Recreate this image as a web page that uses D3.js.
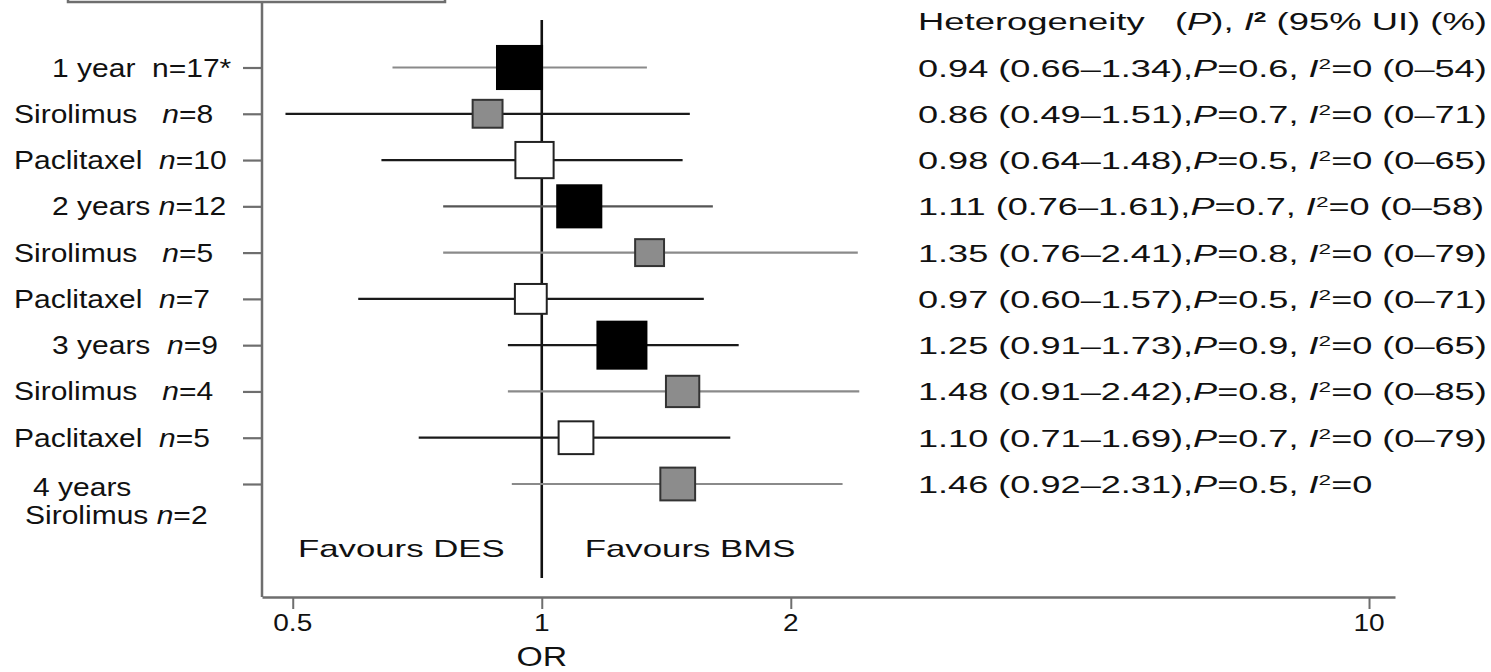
<!DOCTYPE html>
<html>
<head>
<meta charset="utf-8">
<script src="https://cdn.jsdelivr.net/npm/d3@7"></script>
<style>
  html, body { margin: 0; padding: 0; background: #fff; }
  svg { display: block; }
  text { font-family: "Liberation Sans", Arial, sans-serif; fill: #111; white-space: pre; }
</style>
</head>
<body>
<svg id="chart" width="1491" height="672"></svg>
<script>
// ---------------- data ----------------
const rowNames   = ["1 year", "Sirolimus", "Paclitaxel", "2 years", "Sirolimus", "Paclitaxel", "3 years", "Sirolimus", "Paclitaxel", "4 years"];
const rowType    = ["total", "sirolimus", "paclitaxel", "total", "sirolimus", "paclitaxel", "total", "sirolimus", "paclitaxel", "sirolimus"];
const nStudies   = ["17*", "8", "10", "12", "5", "7", "9", "4", "5", "2"];
const orValues   = [0.94, 0.86, 0.98, 1.11, 1.35, 0.97, 1.25, 1.48, 1.10, 1.46];
const ciLow      = [0.66, 0.49, 0.64, 0.76, 0.76, 0.60, 0.91, 0.91, 0.71, 0.92];
const ciHigh     = [1.34, 1.51, 1.48, 1.61, 2.41, 1.57, 1.73, 2.42, 1.69, 2.31];
const pHet       = ["0.6", "0.7", "0.5", "0.7", "0.8", "0.5", "0.9", "0.8", "0.7", "0.5"];
const i2Values   = [0, 0, 0, 0, 0, 0, 0, 0, 0, 0];
const i2Low      = [0, 0, 0, 0, 0, 0, 0, 0, 0, null];
const i2High     = [54, 71, 65, 58, 79, 71, 65, 85, 79, null];
const weights    = [92, 61, 78, 90, 59, 65, 100, 68, 71, 71];
const xTickVals  = [0.5, 1, 2, 10];

// ---------------- styles ----------------
const fillByType = { total: "#000", sirolimus: "#8c8c8c", paclitaxel: "#fff" };
const strokeByType = { total: "#000", sirolimus: "#333", paclitaxel: "#222" };
const ciColor = ["#8a8a8a", "#1a1a1a", "#1a1a1a", "#555", "#8a8a8a", "#1a1a1a", "#1a1a1a", "#8a8a8a", "#1a1a1a", "#8a8a8a"];
const axisColor = "#6e6e6e";

const svg = d3.select("#chart");

// ---------------- scales ----------------
const x = d3.scaleLog().domain([0.459, 10.75]).range([262, 1395]);
const y = d3.scalePoint().domain(d3.range(rowNames.length)).range([67.5, 484]);
const size = d3.scaleLinear().domain([0, 100]).range([0, 49]);

function stretchedText(parent, px, py, str, opts) {
  const g = parent.append("g").attr("transform", `translate(${px},${py}) scale(${opts.sx || 1},1)`);
  const t = g.append("text").attr("x", 0).attr("y", 0)
    .attr("text-anchor", opts.anchor || "start")
    .style("font-size", (opts.size || 24) + "px");
  if (str !== null) t.text(str);
  return { g, t };
}

// ---------------- top box (partially cropped) ----------------
svg.append("rect").attr("x", 68).attr("y", -40).attr("width", 377).attr("height", 42)
  .attr("fill", "none").attr("stroke", axisColor).attr("stroke-width", 2.5);

// ---------------- left axis ----------------
svg.append("line").attr("x1", 262).attr("x2", 262).attr("y1", 3).attr("y2", 597)
  .attr("stroke", axisColor).attr("stroke-width", 2.5);
const yAxis = d3.axisLeft(y).tickSize(19).tickFormat("");
const yAxisG = svg.append("g").attr("transform", "translate(262,0)").call(yAxis);
yAxisG.select(".domain").remove();
yAxisG.selectAll(".tick line").attr("stroke", axisColor).attr("stroke-width", 2.2);

// ---------------- bottom axis ----------------
const xAxis = d3.axisBottom(x).tickValues(xTickVals).tickSize(12).tickSizeOuter(0).tickFormat(d => String(d));
const xAxisG = svg.append("g").attr("transform", "translate(0,597)").call(xAxis);
xAxisG.select(".domain").attr("stroke", axisColor).attr("stroke-width", 2.5);
xAxisG.selectAll(".tick line").attr("stroke", axisColor).attr("stroke-width", 2);
xAxisG.selectAll(".tick text").remove();
xTickVals.forEach(v => {
  stretchedText(svg, x(v), 631, String(v), { anchor: "middle", size: 23, sx: 1.22 });
});
stretchedText(svg, x(1), 666, "OR", { anchor: "middle", size: 27, sx: 1.25 });

// ---------------- reference line at OR = 1 ----------------
svg.append("line").attr("x1", x(1)).attr("x2", x(1)).attr("y1", 20).attr("y2", 578)
  .attr("stroke", "#111").attr("stroke-width", 2.6);

stretchedText(svg, x(1) - 37, 557, "Favours DES", { anchor: "end", size: 24, sx: 1.45 });
stretchedText(svg, x(1) + 43, 557, "Favours BMS", { anchor: "start", size: 24, sx: 1.45 });

// ---------------- CI lines ----------------
const rows = d3.range(rowNames.length);
svg.append("g").selectAll("line").data(rows).join("line")
  .attr("x1", i => x(ciLow[i])).attr("x2", i => x(ciHigh[i]))
  .attr("y1", i => y(i)).attr("y2", i => y(i))
  .attr("stroke", i => ciColor[i]).attr("stroke-width", 2.2);

// ---------------- squares ----------------
svg.append("g").selectAll("rect").data(rows).join("rect")
  .attr("x", i => x(orValues[i]) - size(weights[i]) / 2)
  .attr("y", i => y(i) - (size(weights[i]) - 2) / 2)
  .attr("width", i => size(weights[i]))
  .attr("height", i => size(weights[i]) - 2)
  .attr("fill", i => fillByType[rowType[i]])
  .attr("stroke", i => strokeByType[rowType[i]])
  .attr("stroke-width", 2);

// ---------------- left labels ----------------
const labelSx = 1.2, labelSize = 25;
const spacer = { total: "  ", sirolimus: "   ", paclitaxel: "  " };
rows.forEach(i => {
  if (i === rows.length - 1) {
    stretchedText(svg, 33, y(i) + 12, "4 years", { size: labelSize, sx: labelSx });
    const s = stretchedText(svg, 25, y(i) + 40, null, { size: labelSize, sx: labelSx });
    s.t.append("tspan").text("Sirolimus ");
    s.t.append("tspan").style("font-style", "italic").text("n");
    s.t.append("tspan").text("=" + nStudies[i]);
    return;
  }
  const isTotal = rowType[i] === "total";
  const left = isTotal ? 52 : 14;
  const gap = i === 3 ? " " : spacer[rowType[i]];
  const s = stretchedText(svg, left, y(i) + 9, null, { size: labelSize, sx: labelSx });
  s.t.append("tspan").text(rowNames[i] + gap);
  s.t.append("tspan").style("font-style", i === 0 ? "normal" : "italic").text("n");
  s.t.append("tspan").text("=" + nStudies[i]);
});

// ---------------- right column text ----------------
const rightX = 918, rightWidth = 569;
const head = stretchedText(svg, rightX, 30, null, { size: 24, sx: 1 });
head.t.append("tspan").text("Heterogeneity   (");
head.t.append("tspan").style("font-style", "italic").text("P");
head.t.append("tspan").text("), ");
head.t.append("tspan").style("font-style", "italic").text("I");
head.t.append("tspan").attr("dy", -8).style("font-size", "15px").style("font-weight", "bold").text("2");
head.t.append("tspan").attr("dy", 8).text(" (95% UI) (%)");
const hw = head.t.node().getComputedTextLength();
head.g.attr("transform", `translate(${rightX},30) scale(${rightWidth / hw},1)`);

const fmt = d3.format(".2f");
let rowSx = null;
rows.forEach(i => {
  const s = stretchedText(svg, rightX, y(i) + 9, null, { size: 24, sx: 1 });
  s.t.append("tspan").text(`${fmt(orValues[i])} (${fmt(ciLow[i])}\u2013${fmt(ciHigh[i])}),`);
  s.t.append("tspan").style("font-style", "italic").text("P");
  s.t.append("tspan").text(`=${pHet[i]}, `);
  s.t.append("tspan").style("font-style", "italic").text("I");
  s.t.append("tspan").attr("dy", -8).style("font-size", "15px").text("2");
  const tail = i2High[i] === null ? `=${i2Values[i]}` : `=${i2Values[i]} (${i2Low[i]}\u2013${i2High[i]})`;
  s.t.append("tspan").attr("dy", 8).text(tail);
  if (rowSx === null) rowSx = rightWidth / s.t.node().getComputedTextLength();
  s.g.attr("transform", `translate(${rightX},${y(i) + 9}) scale(${rowSx},1)`);
});
</script>
</body>
</html>
